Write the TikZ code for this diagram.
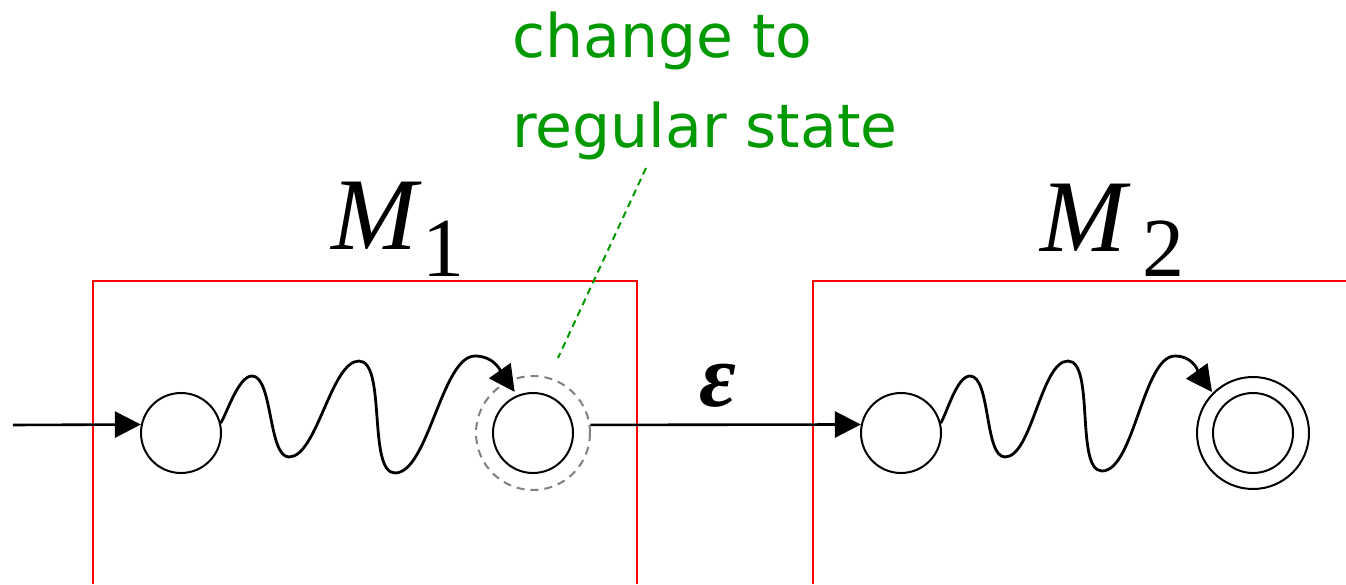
\documentclass[tikz,border=0pt]{standalone}
\usepackage{fontspec}
\usetikzlibrary{arrows.meta,calc}
\newfontfamily\notefont{DejaVu Sans}
\newfontfamily\labelfont{Liberation Serif}
\definecolor{boxred}{RGB}{255,0,0}
\definecolor{notegreen}{RGB}{0,153,0}
\definecolor{ghost}{RGB}{128,128,128}
\begin{document}
\begin{tikzpicture}[x=1pt,y=1pt,
  state/.style={circle,draw=black,line width=2pt,minimum size=80pt,inner sep=0pt},
  ghoststate/.style={circle,draw=ghost,line width=2pt,dash pattern=on 8pt off 6pt,minimum size=114pt,inner sep=0pt},
  outerstate/.style={circle,draw=black,line width=2pt,minimum size=112pt,inner sep=0pt},
  machinebox/.style={draw=boxred,line width=2pt},
  trans/.style={draw=black,line width=2.6pt,-{Triangle[length=26pt,width=26pt]}},
  wave/.style={draw=black,line width=2.8pt,-{Triangle[length=26pt,width=26pt]}},
  note/.style={anchor=base west,inner sep=0pt,text=notegreen,font=\notefont\fontsize{60}{60}\selectfont},
  mlabel/.style={anchor=base west,inner sep=0pt,font=\labelfont\itshape\fontsize{103}{103}\selectfont},
  msub/.style={anchor=base west,inner sep=0pt,font=\labelfont\fontsize{84}{84}\selectfont},
  epslabel/.style={anchor=base,inner sep=0pt,font=\labelfont\bfseries\itshape\fontsize{90}{90}\selectfont},
  pointer/.style={draw=notegreen,line width=2pt,dash pattern=on 7pt off 5pt}
]
\useasboundingbox (0,0) rectangle (1346,584);
% machine boxes
\draw[machinebox] (93,0) -- (93,303) -- (637,303) -- (637,0);
\draw[machinebox] (813,0) -- (813,303) -- (1346,303);
% states
\node[state] (s1) at (181,151) {};
\node[state] (f1) at (533,151) {};
\node[ghoststate] (d1) at (533,151) {};
\node[state] (s2) at (901,151) {};
\node[outerstate] (f2) at (1253,151) {};
\node[state] (f2in) at (1253,151) {};
% labels
\node[mlabel] (m1) at (331,334) {M};
\node[msub] (m1sub) at (422,307) {1};
\node[mlabel] (m2) at (1040,332) {M};
\node[msub] (m2sub) at (1142,307) {2};
\node[epslabel] (eps) at (718,177) {ε};
% note
\node[note] (t1) at (512,526) {change to};
\node[note] (t2) at (512,436) {regular state};
\coordinate (g1) at (646,416);
\coordinate (g2) at (558,226);
\draw[pointer] (g1) -- (g2);
% transitions
\coordinate (in) at (13,159);
\draw[trans] (in) -- (s1.168.5);
\draw[trans] (d1.8) -- (s2.168.5);
\draw[wave] (s1.14.5) to[out=60,in=180,looseness=0.6] (252,208)
  to[out=0,in=180,looseness=0.6] (289,127)
  to[out=0,in=180,looseness=0.6] (359,223)
  to[out=0,in=180,looseness=0.6] (395,111)
  to[out=0,in=180,looseness=0.6] (475,228)
  to[out=0,in=125] ($(f1.center)+(114:45)$);
\draw[wave] (s2.14.5) to[out=60,in=180,looseness=0.6] (970,208)
  to[out=0,in=180,looseness=0.6] (1005,127)
  to[out=0,in=180,looseness=0.6] (1068,223)
  to[out=0,in=180,looseness=0.6] (1102,113)
  to[out=0,in=180,looseness=0.6] (1175,228)
  to[out=0,in=126] ($(f2.center)+(135:58)$);
\end{tikzpicture}
\end{document}
